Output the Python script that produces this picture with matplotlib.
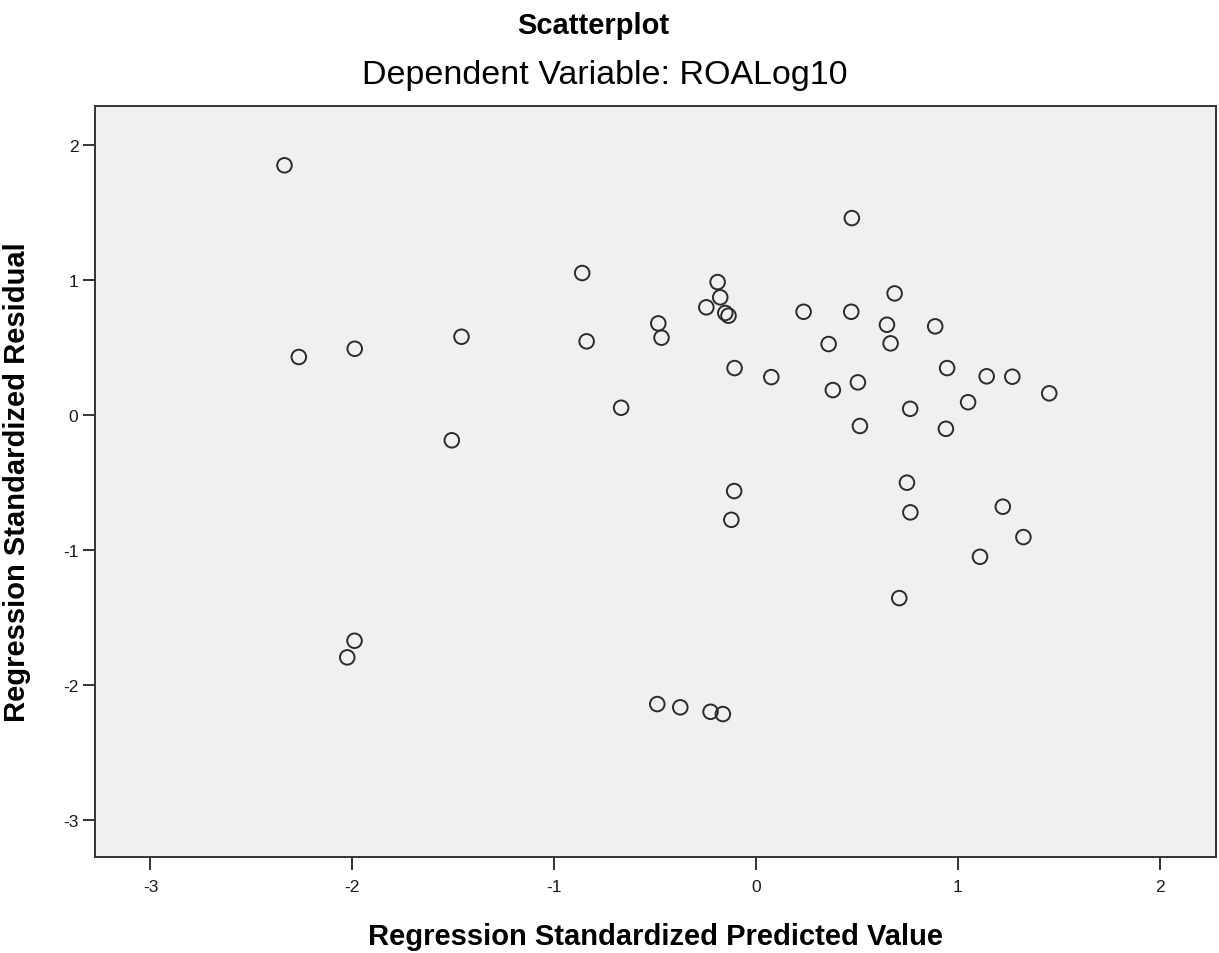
import matplotlib
matplotlib.use("Agg")
import matplotlib.pyplot as plt

plt.rcParams['font.family'] = ['Liberation Sans', 'DejaVu Sans']

# Standardized predicted values (x) and standardized residuals (y)
predicted = [
    -2.336, -2.265, -1.988, -1.459, -1.507, -1.989, -2.025,
    -0.861, -0.839, -0.668, -0.484, -0.468, -0.489, -0.375, -0.225, -0.164,
    -0.190, -0.177, -0.246, -0.152, -0.136, -0.106, -0.108, -0.122,
    0.236, 0.076, 0.475, 0.472, 0.360, 0.381, 0.505, 0.515,
    0.687, 0.649, 0.667, 0.888, 0.947, 0.764, 0.941, 1.051,
    1.143, 1.270, 1.453, 0.748, 0.765, 1.223, 1.325, 1.110, 0.710,
]
residual = [
    1.850, 0.430, 0.491, 0.580, -0.187, -1.672, -1.795,
    1.052, 0.546, 0.054, 0.679, 0.573, -2.141, -2.165, -2.198, -2.215,
    0.985, 0.872, 0.798, 0.756, 0.736, 0.348, -0.563, -0.776,
    0.765, 0.281, 1.459, 0.765, 0.526, 0.185, 0.242, -0.081,
    0.901, 0.669, 0.531, 0.657, 0.348, 0.046, -0.102, 0.095,
    0.287, 0.284, 0.161, -0.501, -0.721, -0.679, -0.904, -1.050, -1.356,
]

x_ticks = [-3, -2, -1, 0, 1, 2]
y_ticks = [-3, -2, -1, 0, 1, 2]

fig = plt.figure(figsize=(12.19, 9.54), dpi=100)
ax = fig.add_axes([0.0779, 0.1006, 0.9196, 0.7872])
ax.set_facecolor('#f0f0f0')

ax.scatter(predicted, residual, s=110, facecolors='none', edgecolors='#2b2b2b',
           linewidths=1.4, zorder=3)

ax.set_xlim(-3.275, 2.279)
ax.set_ylim(-3.274, 2.289)
ax.set_xticks(x_ticks)
ax.set_yticks(y_ticks)
ax.set_xticklabels([str(v) for v in x_ticks])
ax.set_yticklabels([str(v) for v in y_ticks])

for side in ['left', 'right', 'top', 'bottom']:
    ax.spines[side].set_color('#333333')
    ax.spines[side].set_linewidth(1.4)

ax.tick_params(axis='both', direction='out', length=9, width=1.4,
               color='#333333', labelsize=12.5, labelcolor='#1a1a1a')
ax.tick_params(axis='x', pad=7)
ax.tick_params(axis='y', pad=3)

ax.set_xlabel('Regression Standardized Predicted Value', fontsize=21,
              fontweight='bold', labelpad=20)
ax.set_ylabel('Regression Standardized Residual', fontsize=21,
              fontweight='bold', labelpad=23)

fig.text(0.487, 0.973, 'Scatterplot', ha='center', va='center',
         fontsize=21, fontweight='bold')
fig.text(0.496, 0.921, 'Dependent Variable: ROALog10', ha='center', va='center',
         fontsize=24.5)

fig.savefig('out.png', dpi=100, facecolor='white')
